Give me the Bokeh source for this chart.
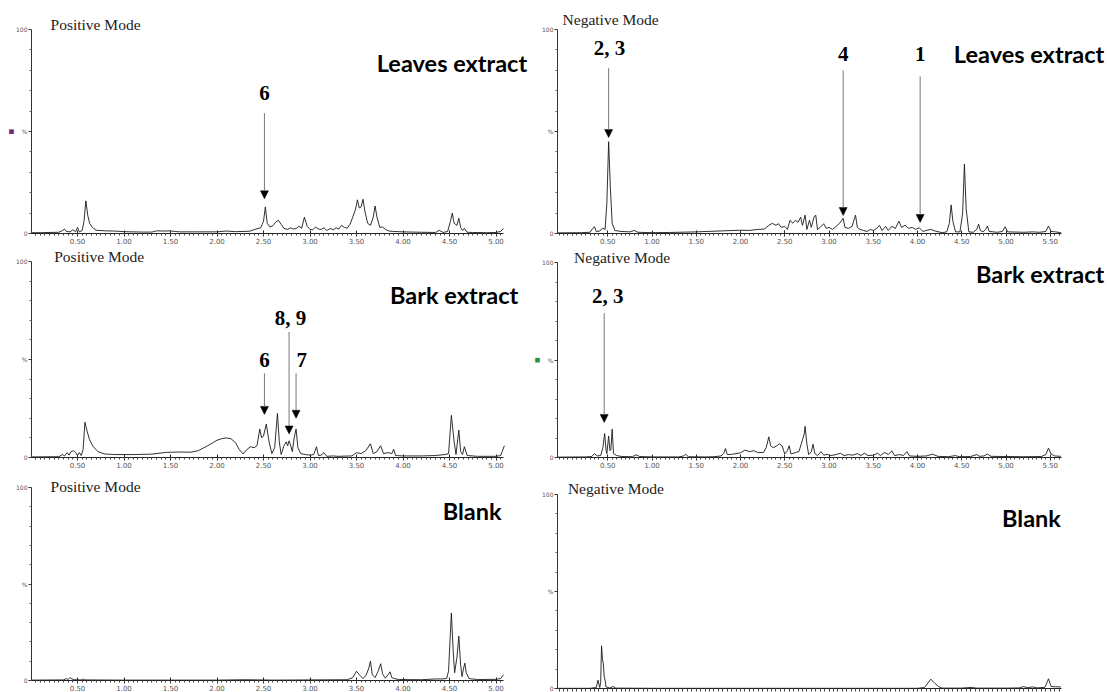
from bokeh.plotting import figure
from bokeh.models import Label, Arrow, NormalHead, FixedTicker, Range1d, NumeralTickFormatter, Title
from bokeh.layouts import row, column
from bokeh.embed import file_html
from bokeh.resources import INLINE

# ---------------- data (retention time [min], relative intensity [%]) ----------------
leaves_pos = [(0.00,0.4),(0.10,0.4),(0.30,0.6),(0.34,1.5),(0.36,2.2),(0.38,1.0),(0.42,0.8),(0.45,1.8),(0.48,0.9),
    (0.50,3.0),(0.52,0.8),(0.55,1.5),(0.57,6.0),(0.59,16.0),(0.61,9.0),(0.63,5.0),(0.66,3.0),(0.70,1.6),(0.80,1.3),
    (0.90,1.2),(1.00,0.9),(1.20,0.7),(1.30,0.7),(1.35,1.3),(1.45,1.2),(1.50,1.3),(1.55,1.0),(1.60,0.8),(1.80,0.8),
    (2.00,0.8),(2.10,1.2),(2.20,0.9),(2.35,1.1),(2.42,2.2),(2.47,2.8),(2.50,6.0),(2.52,13.0),(2.54,5.0),(2.57,3.2),
    (2.60,3.8),(2.63,5.5),(2.66,6.5),(2.69,4.5),(2.72,2.5),(2.76,2.0),(2.79,2.8),(2.82,2.2),(2.85,2.4),(2.88,3.5),
    (2.91,2.6),(2.94,8.0),(2.97,3.5),(3.00,2.0),(3.03,1.8),(3.06,3.2),(3.09,2.2),(3.12,2.0),(3.15,2.8),(3.18,1.5),
    (3.22,2.5),(3.25,1.8),(3.28,2.8),(3.31,2.2),(3.34,4.0),(3.37,3.0),(3.40,2.6),(3.43,4.5),(3.46,8.0),(3.49,12.0),
    (3.51,16.5),(3.53,12.5),(3.55,13.0),(3.57,16.8),(3.59,11.0),(3.62,5.0),(3.65,4.0),(3.68,8.0),(3.70,13.5),
    (3.72,8.0),(3.75,3.0),(3.78,3.2),(3.81,2.0),(3.85,1.2),(3.90,1.0),(4.00,0.8),(4.20,0.6),(4.35,0.5),(4.39,1.6),
    (4.43,0.5),(4.48,1.0),(4.51,6.0),(4.53,10.0),(4.55,5.0),(4.58,4.0),(4.60,7.5),(4.62,3.0),(4.64,1.5),(4.66,2.5),
    (4.69,0.6),(4.75,0.5),(4.90,0.4),(5.00,0.5),(5.05,1.0),(5.08,2.5)]

bark_pos = [(0.00,0.3),(0.30,0.4),(0.34,1.5),(0.36,0.8),(0.39,2.5),(0.41,1.2),(0.43,3.0),(0.46,3.5),(0.48,2.5),
    (0.50,1.0),(0.52,2.5),(0.54,1.0),(0.56,4.0),(0.58,18.0),(0.60,14.0),(0.63,9.0),(0.67,5.5),(0.72,3.0),(0.79,1.8),
    (0.90,1.5),(1.10,1.5),(1.30,1.7),(1.45,2.6),(1.60,2.8),(1.72,2.7),(1.80,3.5),(1.90,6.0),(2.00,8.8),(2.05,9.6),
    (2.10,10.0),(2.15,9.6),(2.20,7.5),(2.24,4.0),(2.28,1.8),(2.32,4.0),(2.36,5.5),(2.40,5.0),(2.43,6.0),(2.46,14.5),
    (2.48,10.0),(2.50,11.0),(2.53,17.0),(2.56,8.0),(2.59,2.0),(2.62,5.0),(2.65,22.5),(2.67,8.0),(2.69,1.5),(2.72,6.0),
    (2.745,8.0),(2.76,6.0),(2.775,8.5),(2.79,6.5),(2.81,3.0),(2.83,10.0),(2.85,14.5),(2.87,5.0),(2.90,2.0),(2.95,1.5),
    (3.00,1.2),(3.04,1.5),(3.07,5.5),(3.09,1.0),(3.12,1.2),(3.15,2.5),(3.18,0.6),(3.25,0.8),(3.30,0.6),(3.45,0.8),
    (3.50,2.5),(3.55,2.0),(3.60,3.5),(3.65,7.0),(3.68,2.0),(3.72,3.0),(3.76,6.0),(3.79,2.0),(3.84,2.5),(3.88,2.0),
    (3.90,4.2),(3.92,1.0),(4.00,0.8),(4.20,0.8),(4.35,1.0),(4.45,1.5),(4.49,2.0),(4.52,21.5),(4.55,8.0),(4.57,1.5),
    (4.60,14.0),(4.62,3.0),(4.64,1.5),(4.66,5.5),(4.69,1.0),(4.80,0.6),(5.00,0.6),(5.05,1.0),(5.09,6.0)]

blank_pos = [(0.00,0.2),(0.35,0.3),(0.38,1.0),(0.40,0.5),(0.42,1.5),(0.44,0.8),(0.47,0.4),(0.54,0.3),(0.56,0.8),
    (0.58,0.3),(1.00,0.2),(2.00,0.2),(2.30,0.4),(2.60,0.2),(3.00,0.3),(3.40,0.4),(3.46,1.5),(3.50,4.8),(3.53,3.0),
    (3.57,1.0),(3.60,2.5),(3.63,6.0),(3.65,10.0),(3.67,3.0),(3.70,1.5),(3.73,4.5),(3.76,8.7),(3.78,3.5),(3.81,1.2),
    (3.84,3.0),(3.86,4.5),(3.88,1.5),(3.92,0.8),(3.96,0.5),(4.20,0.4),(4.35,0.8),(4.42,0.8),(4.47,1.0),(4.49,5.0),
    (4.51,25.0),(4.52,35.0),(4.54,15.0),(4.555,4.0),(4.58,12.0),(4.60,23.0),(4.62,8.0),(4.635,2.0),(4.65,6.0),
    (4.665,9.0),(4.68,4.0),(4.71,1.0),(4.80,0.5),(5.00,0.6),(5.05,1.0),(5.08,3.0)]

leaves_neg = [(-0.07,0.3),(0.20,0.4),(0.30,0.6),(0.33,2.5),(0.35,3.3),(0.37,1.0),(0.41,1.2),(0.44,2.6),(0.47,2.0),
    (0.49,15.0),(0.51,45.0),(0.53,22.0),(0.55,5.0),(0.58,1.5),(0.65,1.0),(0.75,0.8),(0.80,1.5),(0.84,0.6),(1.00,0.4),
    (1.20,0.5),(1.50,0.8),(1.80,1.3),(2.00,1.6),(2.10,1.5),(2.20,2.0),(2.27,2.2),(2.32,4.0),(2.36,5.0),(2.40,4.0),
    (2.43,4.8),(2.46,3.0),(2.50,3.5),(2.53,2.0),(2.56,6.5),(2.59,5.0),(2.62,6.5),(2.65,5.5),(2.68,8.0),(2.70,4.0),
    (2.73,9.0),(2.75,2.0),(2.78,6.5),(2.80,3.0),(2.83,8.0),(2.85,9.0),(2.87,2.0),(2.90,3.0),(2.94,4.8),(2.97,2.5),
    (3.00,3.0),(3.04,2.0),(3.08,3.5),(3.12,5.0),(3.16,7.5),(3.18,3.0),(3.22,2.5),(3.26,3.5),(3.30,9.0),(3.32,3.0),
    (3.35,2.0),(3.39,1.5),(3.43,1.0),(3.47,2.0),(3.50,1.5),(3.54,2.5),(3.57,4.0),(3.60,1.5),(3.64,3.5),(3.67,1.5),
    (3.71,3.5),(3.75,2.5),(3.79,6.0),(3.82,3.0),(3.86,4.0),(3.90,2.5),(3.94,3.0),(3.98,2.0),(4.02,2.8),(4.06,1.0),
    (4.10,1.5),(4.15,2.0),(4.20,1.2),(4.28,0.4),(4.33,0.8),(4.36,5.0),(4.38,14.0),(4.40,6.0),(4.43,0.8),(4.48,0.8),
    (4.51,10.0),(4.53,34.0),(4.55,12.0),(4.58,0.8),(4.63,0.6),(4.67,2.0),(4.69,4.6),(4.71,1.5),(4.74,0.8),(4.77,2.0),
    (4.79,3.6),(4.81,1.0),(4.90,0.6),(4.96,1.0),(4.99,3.3),(5.02,0.8),(5.20,0.6),(5.30,0.8),(5.38,0.6),(5.45,1.0),
    (5.48,3.6),(5.51,1.0),(5.56,0.8),(5.62,0.4)]

bark_neg = [(-0.07,0.2),(0.25,0.3),(0.32,0.5),(0.35,2.0),(0.38,0.8),(0.42,1.0),(0.445,5.0),(0.465,12.3),(0.48,4.0),
    (0.49,2.0),(0.51,11.0),(0.525,3.5),(0.535,4.0),(0.55,14.5),(0.565,2.0),(0.60,1.0),(0.66,0.5),(0.78,0.4),(0.82,1.4),
    (0.86,0.5),(1.00,0.3),(1.30,0.3),(1.36,0.8),(1.38,1.7),(1.41,0.4),(1.60,0.3),(1.70,0.4),(1.78,0.8),(1.81,2.0),
    (1.83,4.6),(1.85,1.5),(1.90,1.6),(2.00,2.4),(2.05,3.8),(2.10,3.0),(2.15,3.5),(2.20,2.5),(2.26,2.6),(2.29,5.0),
    (2.32,10.6),(2.34,6.0),(2.37,5.0),(2.41,6.0),(2.44,7.0),(2.47,6.0),(2.50,1.8),(2.53,3.5),(2.55,6.0),(2.57,1.8),
    (2.62,2.5),(2.66,3.0),(2.70,9.0),(2.72,12.0),(2.73,16.0),(2.75,7.0),(2.77,1.5),(2.80,3.0),(2.82,6.8),(2.84,2.0),
    (2.87,1.0),(2.91,3.0),(2.94,1.2),(2.98,1.6),(3.02,1.0),(3.07,1.4),(3.13,2.2),(3.17,1.0),(3.22,1.5),(3.27,1.2),
    (3.32,2.0),(3.36,1.0),(3.40,2.2),(3.44,1.0),(3.50,1.2),(3.55,2.2),(3.58,1.0),(3.63,2.6),(3.67,1.5),(3.71,3.4),
    (3.74,1.0),(3.80,1.5),(3.84,1.0),(3.88,3.0),(3.91,0.8),(4.00,0.6),(4.10,0.8),(4.17,1.7),(4.23,0.6),(4.35,0.4),
    (4.43,1.0),(4.47,0.4),(4.60,0.5),(4.67,1.5),(4.70,0.6),(4.75,0.8),(4.79,1.8),(4.83,0.6),(5.00,0.5),(5.20,0.4),
    (5.40,0.5),(5.45,1.5),(5.48,4.8),(5.51,1.8),(5.55,0.8),(5.62,0.6)]

blank_neg = [(-0.07,0.1),(0.30,0.1),(0.37,0.5),(0.39,4.3),(0.41,0.5),(0.42,3.0),(0.43,22.0),(0.44,15.0),(0.45,13.0),
    (0.46,6.0),(0.47,4.3),(0.48,0.8),(0.52,0.3),(0.56,1.0),(0.59,0.2),(1.00,0.1),(2.00,0.1),(3.00,0.1),(4.00,0.1),
    (4.08,0.5),(4.15,4.8),(4.20,2.5),(4.24,0.9),(4.28,0.2),(4.50,0.2),(4.62,0.6),(4.66,0.2),(5.00,0.2),(5.15,0.3),
    (5.20,1.0),(5.24,0.4),(5.30,0.8),(5.35,0.3),(5.44,0.6),(5.48,5.0),(5.51,1.0),(5.56,0.9),(5.62,0.8)]

# tick labels
pos_xticks = [0.5, 1.0, 1.5, 2.0, 2.5, 3.0, 3.5, 4.0, 4.5, 5.0]
neg_xticks = [0.5, 1.0, 1.5, 2.0, 2.5, 3.0, 3.5, 4.0, 4.5, 5.0, 5.5]
yticks = [0, 50, 100]
ytick_labels = {0: "0", 50: "%", 100: "100"}

# panel texts: (mode title, x, y) and (sample name, right x, y)
titles = {
    "lp": ("Positive Mode", 0.21, 102.5), "bp": ("Positive Mode", 0.25, 102.5), "kp": ("Positive Mode", 0.21, 100.5),
    "ln": ("Negative Mode", -0.01, 105.0), "bn": ("Negative Mode", 0.12, 102.5), "kn": ("Negative Mode", 0.05, 103.0),
}
samples = {
    "lp": ("Leaves extract", 5.335, 83.8), "bp": ("Bark extract", 5.24, 83.0), "kp": ("Blank", 5.06, 87.6),
    "ln": ("Leaves extract", 6.11, 88.0), "bn": ("Bark extract", 6.11, 94.0), "kn": ("Blank", 5.62, 88.0),
}
# compound marks: (text, label x, label y, arrow x, arrow start y, arrow tip y)
marks = {
    "lp": [("6", 2.51, 69, 2.51, 59, 17)],
    "bp": [("8, 9", 2.79, 71, 2.775, 64, 12), ("6", 2.51, 49.5, 2.51, 43, 22), ("7", 2.91, 49.5, 2.85, 43, 20)],
    "kp": [],
    "ln": [("2, 3", 0.52, 91, 0.51, 81, 47), ("4", 3.16, 88, 3.16, 80, 8.8), ("1", 4.03, 88, 4.03, 77, 5.4)],
    "bn": [("2, 3", 0.50, 83, 0.46, 74, 18)],
    "kn": [],
}
markers = {"lp": "#6e2a72", "bn": "#2f8f3c"}

# ---------------- layout geometry (pixels) ----------------
L_PX0, L_PPM, L_FRAME_L, L_FW, L_BL, L_BR = 30.5, 93.0, 31, 497, 31, 2     # left column is 530 px wide
R_PX0, R_PPM, R_FRAME_L, R_FW, R_BL, R_BR = 563.0, 88.5, 557, 549, 27, 1   # right column starts at 530
L_AXIS = (0.0, 5.08)
R_AXIS = (-0.068, 5.63)


def panel(key, data, col, xt, frame_top, y100, y0, bottom, show_xlabels=True):
    if col == "L":
        px0, ppm, fl, fw, bounds, bl, br = L_PX0, L_PPM, L_FRAME_L, L_FW, L_AXIS, L_BL, L_BR
    else:
        px0, ppm, fl, fw, bounds, bl, br = R_PX0, R_PPM, R_FRAME_L, R_FW, R_AXIS, R_BL, R_BR
    xs = (fl - px0) / ppm
    xe = xs + fw / ppm
    fh = y0 - frame_top
    ytop = 100.0 * fh / (y0 - y100)
    p = figure(frame_width=fw, frame_height=fh, x_range=Range1d(xs, xe), y_range=Range1d(0, ytop),
               output_backend="svg", toolbar_location=None,
               min_border_left=bl, min_border_right=br, min_border_top=0, min_border_bottom=bottom)
    p.outline_line_color = None
    p.grid.visible = False
    p.background_fill_color = "white"
    p.border_fill_color = "white"
    t = [d[0] for d in data]
    v = [d[1] for d in data]
    p.line(t, v, line_color="#1a1a1a", line_width=0.9)

    xa = p.xaxis[0]
    xa.bounds = bounds
    minor = [round(0.05 * k, 2) for k in range(int(bounds[0] / 0.05), int(bounds[1] / 0.05) + 1)]
    if show_xlabels:
        xa.ticker = FixedTicker(ticks=xt, minor_ticks=minor)
    else:
        xa.ticker = FixedTicker(ticks=[], minor_ticks=minor)
    xa.formatter = NumeralTickFormatter(format="0.00")
    xa.axis_line_color = "#222"
    xa.major_tick_line_color = "#222"
    xa.minor_tick_line_color = "#444"
    xa.major_tick_in = 3
    xa.major_tick_out = 3
    xa.minor_tick_in = 0
    xa.minor_tick_out = 3 if not show_xlabels else 2
    xa.major_label_standoff = 1
    xa.major_label_text_font = "DejaVu Sans"
    xa.major_label_text_font_size = "7px"
    xa.major_label_text_color = "#555"

    ya = p.yaxis[0]
    ya.bounds = (0, 100)
    ya.ticker = FixedTicker(ticks=yticks, minor_ticks=[10, 20, 30, 40, 60, 70, 80, 90])
    ya.major_label_overrides = ytick_labels
    ya.axis_line_color = "#333"
    ya.major_tick_line_color = "#333"
    ya.minor_tick_line_color = "#666"
    ya.major_tick_in = 0
    ya.major_tick_out = 3
    ya.minor_tick_in = 0
    ya.minor_tick_out = 2
    ya.major_label_standoff = 1
    ya.major_label_text_font = "DejaVu Sans"
    ya.major_label_text_font_size = "6px"
    ya.major_label_text_color = "#555"
    if key in markers:
        # small coloured trace marker left of the "%" label, at mid height of the 0-100 axis
        off = (y0 - y100) / 2.0 - 3
        p.add_layout(Title(text="\u25a0", align="left", offset=off, standoff=0, text_font="DejaVu Sans",
                           text_font_size="6px", text_color=markers[key], text_font_style="normal"), "left")

    tt, tx, ty = titles[key]
    p.add_layout(Label(x=tx, y=ty, text=tt, text_font="Liberation Serif", text_font_size="15.5px",
                       text_color="#222", text_align="left", text_baseline="middle"))
    st, sx, sy = samples[key]
    p.add_layout(Label(x=sx, y=sy, text=st, text_font="Lato", text_font_style="bold", text_font_size="23.5px",
                       text_color="black", text_align="right", text_baseline="middle"))
    for (txt, lx, ly, ax, ay0, ay1) in marks[key]:
        p.add_layout(Label(x=lx, y=ly, text=txt, text_font="Liberation Serif", text_font_style="bold",
                           text_font_size="21px", text_color="black", text_align="center", text_baseline="middle"))
        p.add_layout(Arrow(x_start=ax, y_start=ay0, x_end=ax, y_end=ay1, line_color="#777", line_width=1,
                           end=NormalHead(size=8, fill_color="black", line_color="black", line_width=0.5)))
    return p


L1 = panel("lp", leaves_pos, "L", pos_xticks, 0, 29, 233, 14)
L2 = panel("bp", bark_pos, "L", pos_xticks, 247, 261, 457, 14)
L3 = panel("kp", blank_pos, "L", pos_xticks, 471, 487, 680, 12)
R1 = panel("ln", leaves_neg, "R", neg_xticks, 0, 29, 233, 14)
R2 = panel("bn", bark_neg, "R", neg_xticks, 247, 262, 457, 14)
R3 = panel("kn", blank_neg, "R", neg_xticks, 471, 494, 688, 4, show_xlabels=False)

page = row(column(L1, L2, L3), column(R1, R2, R3))
open("out.html", "w").write(file_html(page, INLINE))
